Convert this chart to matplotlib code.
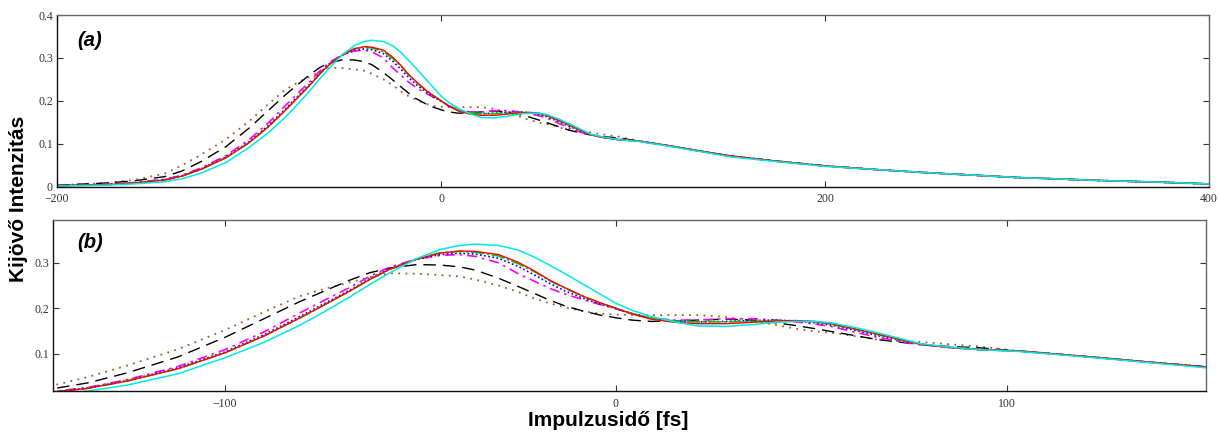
import matplotlib
matplotlib.use("Agg")
import matplotlib.pyplot as plt

# ---------------- data ----------------
t_fs = [-200, -175, -160, -144, -135, -125, -112, -100, -90, -81, -74, -68, -63, -58,
        -51, -45, -40, -36, -30, -25, -21, -17, -13, -8, -4, 0, 4, 9, 15, 21, 28, 35,
        41, 46, 51, 55, 61, 67, 73, 78, 85, 93, 103, 113, 124, 137, 151, 175, 200,
        225, 250, 275, 300, 325, 350, 375, 400]

tail = [0.106, 0.099, 0.091, 0.081, 0.071, 0.059, 0.048, 0.040, 0.033, 0.027,
        0.021, 0.017, 0.013, 0.010, 0.006]

cyan_vals = [0.001, 0.003, 0.006, 0.011, 0.018, 0.031, 0.056, 0.091, 0.125, 0.162,
             0.195, 0.225, 0.252, 0.277, 0.309, 0.329, 0.338, 0.341, 0.338, 0.328,
             0.313, 0.295, 0.276, 0.251, 0.231, 0.211, 0.196, 0.182, 0.170, 0.161,
             0.160, 0.164, 0.169, 0.171, 0.171, 0.168, 0.158, 0.146, 0.133, 0.122,
             0.115, 0.109, 0.105, 0.098, 0.090, 0.080, 0.069, 0.058, 0.047, 0.040,
             0.033, 0.027, 0.021, 0.017, 0.013, 0.010, 0.006]

red_vals = [0.002, 0.004, 0.008, 0.015, 0.024, 0.040, 0.067, 0.102, 0.139, 0.178,
            0.210, 0.238, 0.263, 0.285, 0.308, 0.321, 0.326, 0.325, 0.318, 0.301,
            0.283, 0.262, 0.245, 0.225, 0.212, 0.200, 0.188, 0.176, 0.169, 0.166,
            0.166, 0.169, 0.172, 0.173, 0.171, 0.166, 0.155, 0.143, 0.131, 0.121,
            0.114, 0.109] + tail

green_vals = [0.002, 0.004, 0.008, 0.015, 0.024, 0.040, 0.067, 0.102, 0.139, 0.178,
              0.210, 0.238, 0.263, 0.285, 0.308, 0.322, 0.325, 0.323, 0.315, 0.298,
              0.281, 0.261, 0.244, 0.225, 0.212, 0.200, 0.189, 0.178, 0.172, 0.170,
              0.170, 0.171, 0.173, 0.172, 0.170, 0.165, 0.154, 0.142, 0.130, 0.121,
              0.114, 0.109] + tail

blue_vals = [0.002, 0.004, 0.008, 0.016, 0.025, 0.041, 0.069, 0.104, 0.142, 0.181,
             0.213, 0.240, 0.265, 0.287, 0.307, 0.318, 0.321, 0.319, 0.310, 0.292,
             0.274, 0.255, 0.238, 0.221, 0.209, 0.199, 0.188, 0.178, 0.172, 0.170,
             0.171, 0.173, 0.174, 0.172, 0.168, 0.163, 0.152, 0.140, 0.129, 0.121,
             0.114, 0.109] + tail

magenta_vals = [0.002, 0.005, 0.009, 0.017, 0.026, 0.043, 0.072, 0.109, 0.148, 0.189,
                0.220, 0.246, 0.270, 0.290, 0.308, 0.316, 0.318, 0.314, 0.300, 0.276,
                0.260, 0.244, 0.231, 0.218, 0.208, 0.199, 0.188, 0.178, 0.174, 0.174,
                0.177, 0.177, 0.174, 0.170, 0.165, 0.160, 0.148, 0.136, 0.126, 0.120,
                0.114, 0.110] + tail

black_vals = [0.003, 0.008, 0.013, 0.023, 0.036, 0.058, 0.093, 0.136, 0.177, 0.214,
              0.240, 0.262, 0.278, 0.288, 0.296, 0.295, 0.291, 0.284, 0.266, 0.248,
              0.233, 0.218, 0.205, 0.193, 0.185, 0.179, 0.174, 0.171, 0.172, 0.174,
              0.176, 0.174, 0.168, 0.162, 0.155, 0.149, 0.140, 0.131, 0.125, 0.120,
              0.116, 0.113] + tail

brown_vals = [0.003, 0.008, 0.015, 0.030, 0.049, 0.074, 0.110, 0.152, 0.192, 0.226,
              0.244, 0.257, 0.268, 0.277, 0.276, 0.273, 0.270, 0.263, 0.250, 0.236,
              0.222, 0.211, 0.202, 0.193, 0.188, 0.186, 0.185, 0.185, 0.185, 0.185,
              0.181, 0.172, 0.163, 0.155, 0.149, 0.146, 0.139, 0.131, 0.128, 0.126,
              0.121, 0.116] + tail

series = [
    (brown_vals, dict(color="#a0602a", linestyle=(0, (1, 3)), lw=1.3)),
    (black_vals, dict(color="#000000", linestyle=(0, (9, 5)), lw=1.0)),
    (magenta_vals, dict(color="#ff00ff", linestyle=(0, (6, 3, 1.5, 3)), lw=1.2)),
    (blue_vals, dict(color="#0000ff", linestyle=(0, (1, 1.5)), lw=1.2)),
    (green_vals, dict(color="#00cc00", linestyle=(0, (8, 1.5, 1.5, 1.5)), lw=1.2)),
    (red_vals, dict(color="#ff0000", linestyle="-", lw=1.0)),
    (cyan_vals, dict(color="#00e8e8", linestyle="-", lw=1.1)),
]

top_xticks = [-200, 0, 200, 400]
top_yticks = [0, 0.1, 0.2, 0.3, 0.4]
top_ylabels = ["0", "0.1", "0.2", "0.3", "0.4"]
bot_xticks = [-100, 0, 100]
bot_yticks = [0.1, 0.2, 0.3]
bot_ylabels = ["0.1", "0.2", "0.3"]

# ---------------- figure ----------------
W, H = 1219, 434
fig = plt.figure(figsize=(W / 100, H / 100), dpi=100)

def px_axes(l, t, r, b):
    return fig.add_axes([l / W, 1 - b / H, (r - l) / W, (b - t) / H])

ax1 = px_axes(57, 15, 1209, 186.5)
ax2 = px_axes(53, 220, 1206, 391)

tick_font = dict(family="Liberation Serif", size=8.5)

for ax in (ax1, ax2):
    for vals, st in series:
        ax.plot(t_fs, vals, **st)
    ax.tick_params(direction="in", top=True, right=True, length=4, width=0.8,
                   colors="#333333", labelsize=8.5)
    ax.tick_params(axis="x", pad=5)
    ax.tick_params(axis="y", pad=3)
    for s in ax.spines.values():
        s.set_linewidth(1.0)
        s.set_color("#111111")
    ax.spines["top"].set_color("#666666")
    ax.spines["right"].set_color("#666666")

ax1.set_xlim(-200, 400)
ax1.set_ylim(0, 0.4)
ax1.set_xticks(top_xticks)
ax1.set_xticklabels([f"{v}".replace("-", "\u2212") for v in top_xticks], **tick_font)
ax1.set_yticks(top_yticks)
ax1.set_yticklabels(top_ylabels, **tick_font)

ax2.set_xlim(-144, 151)
ax2.set_ylim(0.018, 0.394)
ax2.set_xticks(bot_xticks)
ax2.set_xticklabels([f"{v}".replace("-", "\u2212") for v in bot_xticks], **tick_font)
ax2.set_yticks(bot_yticks)
ax2.set_yticklabels(bot_ylabels, **tick_font)

fig.text(77 / W, 1 - 41 / H, "(a)", fontsize=14.5, fontweight="bold",
         fontstyle="italic", family="Liberation Sans", va="center", ha="left")
fig.text(77 / W, 1 - 243 / H, "(b)", fontsize=14.5, fontweight="bold",
         fontstyle="italic", family="Liberation Sans", va="center", ha="left")

fig.text(19 / W, 1 - 199 / H, "Kijövő Intenzitás", rotation=90, ha="center",
         va="center", fontsize=15, fontweight="bold", family="Liberation Sans")
fig.text(608 / W, 1 - 421 / H, "Impulzusidő [fs]", ha="center", va="center",
         fontsize=15, fontweight="bold", family="Liberation Sans")

fig.savefig("out.png", dpi=100)
